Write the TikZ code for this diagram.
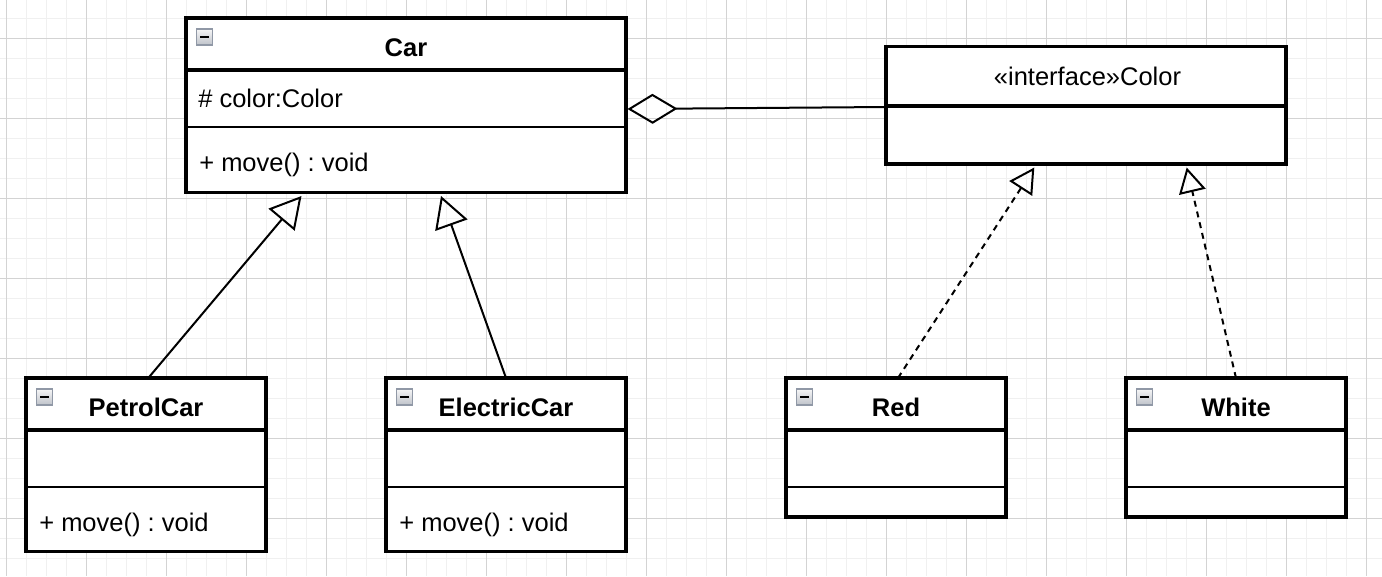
\documentclass[tikz,border=0pt]{standalone}
\usepackage{fontspec}
\setmainfont{Liberation Sans}
\usetikzlibrary{arrows.meta,calc}
\definecolor{iconborder}{HTML}{9098A6}
\definecolor{icontop}{HTML}{F6F6F7}
\definecolor{iconbot}{HTML}{BEC2C9}
\definecolor{minorcol}{HTML}{F0F0F0}
\definecolor{majorcol}{HTML}{D3D3D3}
\frenchspacing
\tikzset{
  minorgrid/.style={draw=minorcol, line width=1pt},
  majorgrid/.style={draw=majorcol, line width=1pt},
  classbox/.style={draw=black, line width=3.2pt, fill=white, inner sep=0pt, outer sep=0pt, anchor=north west},
  thicksep/.style={line width=3.2pt},
  thinsep/.style={line width=1.7pt},
  titletxt/.style={font=\fontsize{25.5}{30}\selectfont\bfseries, inner sep=0pt, outer sep=0pt, anchor=base},
  plaintitle/.style={font=\fontsize{25.5}{30}\selectfont, inner sep=0pt, outer sep=0pt, anchor=base},
  membertxt/.style={font=\fontsize{25.5}{30}\selectfont, inner sep=0pt, outer sep=0pt, anchor=base west},
  icon/.style={draw=iconborder, line width=1.5pt, top color=icontop, bottom color=iconbot, minimum size=16pt, inner sep=0pt, outer sep=0pt, anchor=north west,
    path picture={\fill[black] ($(path picture bounding box.center)+(-4.8,-1.4)$) rectangle ++(9.6,2.8);}},
  inherit/.style={line width=2pt, -{Triangle[open,length=31pt,width=34pt]}},
  realize/.style={line width=2pt, dash pattern=on 6pt off 5pt, -{Triangle[open,length=25pt,width=27pt]}},
  aggr/.style={line width=2pt, {Diamond[open,length=50pt,width=30pt]}-},
}
\newcommand\umlclass[7]{% name, x, y, w, h, title, thin-sep offset
  \node[classbox, minimum width=#4pt, minimum height=#5pt] (#1) at (#2,#3) {};
  \draw[thicksep] ($(#1.north west)+(0,52)$) -- ($(#1.north east)+(0,52)$);
  \draw[thinsep] ($(#1.north west)+(0,#7)$) -- ($(#1.north east)+(0,#7)$);
  \node[icon] (#1-icon) at ($(#1.north west)+(10.5,11)$) {};
  \node[titletxt] (#1-title) at ($(#1.north)+(0,38)$) {#6};
}
\begin{document}
\begin{tikzpicture}[x=1pt,y=-1pt]
\useasboundingbox (0,0) rectangle (1382,576);
\fill[white] (0,0) rectangle (1382,576);
\begin{scope}
\clip (0,0) rectangle (1382,576);
\foreach \i in {0,...,69} \draw[minorgrid] (6.5+20*\i,0) -- (6.5+20*\i,576);
\foreach \i in {0,...,29} \draw[minorgrid] (0,-1.7+20*\i) -- (1382,-1.7+20*\i);
\foreach \i in {0,...,17} \draw[majorgrid] (6.5+80*\i,0) -- (6.5+80*\i,576);
\foreach \i in {0,...,7} \draw[majorgrid] (0,38.3+80*\i) -- (1382,38.3+80*\i);
\end{scope}

% classes
\umlclass{car}{186}{18}{440}{174.5}{Car}{109}
\node[membertxt] (car-attr) at ($(car.north west)+(12.3,89.7)$) {\# color:Color};
\node[membertxt] (car-op) at ($(car.north west)+(13.3,153.7)$) {+ move() : void};

\umlclass{petrol}{26}{378}{240}{173.5}{PetrolCar}{109}
\node[membertxt] (petrol-op) at ($(petrol.north west)+(13.3,153.7)$) {+ move() : void};

\umlclass{electric}{386}{378}{240}{173.5}{ElectricCar}{109}
\node[membertxt] (electric-op) at ($(electric.north west)+(13.3,153.7)$) {+ move() : void};

\umlclass{red}{786}{378}{220}{139}{Red}{109}
\umlclass{white}{1126}{378}{220}{139}{White}{109}

% interface
\node[classbox, minimum width=400pt, minimum height=117.5pt] (color) at (886,46.5) {};
\draw[thicksep] ($(color.north west)+(0,59.5)$) -- ($(color.north east)+(0,59.5)$);
\node[plaintitle] (color-title) at ($(color.north)+(1.5,38.5)$) {«interface»Color};

% connector end points
\coordinate (petrolTop) at ($(petrol.north west)+(122.3,0)$);
\coordinate (carTipL) at ($(car.south west)+(115.5,3.5)$);
\coordinate (elecTop) at ($(electric.north west)+(120,0)$);
\coordinate (carTipR) at ($(car.south west)+(255,3.5)$);
\coordinate (redTop) at ($(red.north west)+(112,0)$);
\coordinate (colorTipL) at ($(color.south west)+(148.3,3.5)$);
\coordinate (whiteTop) at ($(white.north west)+(110,0)$);
\coordinate (colorTipR) at ($(color.south west)+(300.7,3.5)$);
\coordinate (aggStart) at ($(car.north east)+(1.5,91)$);
\coordinate (aggEnd) at ($(color.north west)+(0,60.5)$);

\draw[inherit] (petrolTop) -- (carTipL);
\draw[inherit] (elecTop) -- (carTipR);
\draw[realize] (redTop) -- (colorTipL);
\draw[realize] (whiteTop) -- (colorTipR);
\draw[aggr] (aggStart) -- (aggEnd);
\end{tikzpicture}
\end{document}
